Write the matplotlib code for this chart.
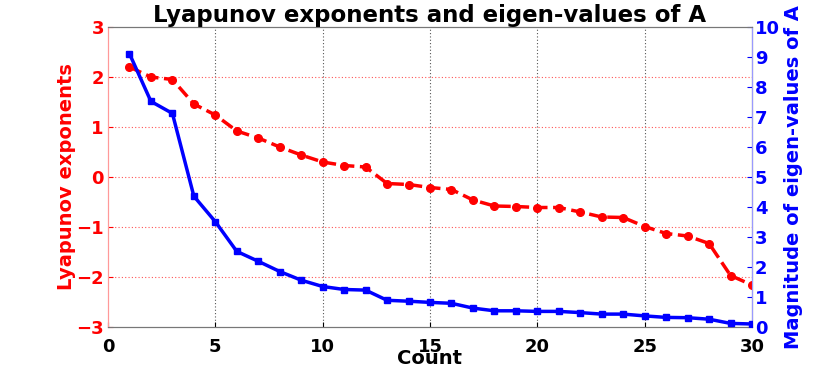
import numpy as np
import matplotlib
matplotlib.use('Agg')
import matplotlib.pyplot as plt

plt.rcParams['font.family'] = ['DejaVu Sans']
plt.rcParams['font.weight'] = 'bold'

# data
count = list(range(1, 31))
lyapunov = [2.20, 2.00, 1.95, 1.46, 1.24, 0.92, 0.78, 0.60, 0.44, 0.30,
            0.23, 0.20, -0.13, -0.15, -0.21, -0.25, -0.46, -0.58, -0.59, -0.61,
            -0.61, -0.70, -0.80, -0.81, -0.99, -1.13, -1.18, -1.33, -1.97, -2.16]
eigen_mag = [9.11, 7.52, 7.12, 4.36, 3.51, 2.52, 2.19, 1.85, 1.56, 1.35,
             1.25, 1.23, 0.89, 0.86, 0.82, 0.79, 0.63, 0.54, 0.54, 0.52,
             0.52, 0.48, 0.43, 0.43, 0.37, 0.32, 0.31, 0.26, 0.12, 0.10]
xticks = [0, 5, 10, 15, 20, 25, 30]
left_ticks = [-3, -2, -1, 0, 1, 2, 3]
right_ticks = list(range(0, 11))

fig = plt.figure(figsize=(8.31, 3.68), dpi=100)
ax = fig.add_axes([108 / 831, 41 / 368, 644 / 831, 300 / 368])
ax2 = ax.twinx()

ax.plot(count, lyapunov, '--o', color='red', lw=2.5, ms=5.5, zorder=3)
ax2.plot(count, eigen_mag, '-s', color='blue', lw=2.5, ms=5, zorder=3)

ax.set_xlim(0, 30)
ax.set_ylim(-3, 3)
ax2.set_ylim(0, 10)
ax.set_xticks(xticks)
ax.set_yticks(left_ticks)
ax2.set_yticks(right_ticks)

# grid: gray vertical, red horizontal
for x in xticks[1:-1]:
    ax.axvline(x, color='#555555', ls=(0, (1, 2)), lw=0.8, zorder=1)
for y in left_ticks[1:-1]:
    ax.axhline(y, color='#ff5555', ls=(0, (1, 2)), lw=0.8, zorder=1)

ax.tick_params(axis='x', direction='in', labelsize=13, colors='black', pad=8)
ax.tick_params(axis='y', direction='in', labelsize=13, colors='red', pad=3)
ax2.tick_params(axis='y', direction='in', labelsize=13, colors='blue', pad=2)
ax2.tick_params(axis='x', direction='in')

for sp in ['top', 'bottom']:
    ax.spines[sp].set_color('#777777')
    ax2.spines[sp].set_color('#777777')
ax2.spines['left'].set_color('#ff9999')
ax.spines['left'].set_color('#ff9999')
ax2.spines['right'].set_color('#9999ff')

ax.set_xlabel('Count', fontsize=14, fontweight='bold', labelpad=-5)
ax.set_ylabel('Lyapunov exponents', fontsize=14, fontweight='bold', color='red', labelpad=0)
ax2.set_ylabel('Magnitude of eigen-values of A', fontsize=14, fontweight='bold',
               color='blue', labelpad=3)
ax.set_title('Lyapunov exponents and eigen-values of A', fontsize=16.5,
             fontweight='bold', pad=2)

fig.savefig('out.png', dpi=100)
